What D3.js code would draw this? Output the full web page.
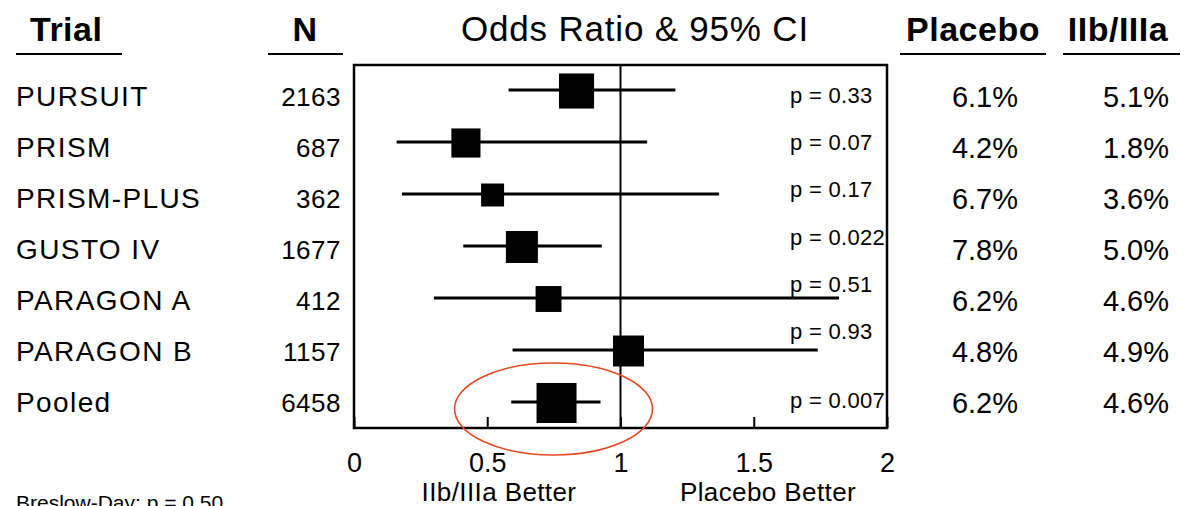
<!DOCTYPE html>
<html>
<head>
<meta charset="utf-8">
<script src="https://cdn.jsdelivr.net/npm/d3@7"></script>
<style>
  body { margin: 0; background: #fff; }
  text { font-family: "Liberation Sans", Arial, Helvetica, sans-serif; fill: #000; }
</style>
</head>
<body>
<div class="chart"></div>
<script>
const trials = ['PURSUIT', 'PRISM', 'PRISM-PLUS', 'GUSTO IV', 'PARAGON A', 'PARAGON B', 'Pooled'];
const nPatients = [2163, 687, 362, 1677, 412, 1157, 6458];
const oddsRatio = [0.835, 0.42, 0.52, 0.63, 0.73, 1.03, 0.76];
const ciLow = [0.58, 0.16, 0.18, 0.41, 0.30, 0.595, 0.59];
const ciHigh = [1.206, 1.10, 1.37, 0.93, 1.82, 1.74, 0.925];
const weights = [0.77, 0.53, 0.33, 0.64, 0.42, 0.60, 1.0];
const pValues = ['0.33', '0.07', '0.17', '0.022', '0.51', '0.93', '0.007'];
const placebo = ['6.1%', '4.2%', '6.7%', '7.8%', '6.2%', '4.8%', '6.2%'];
const gp2b3a = ['5.1%', '1.8%', '3.6%', '5.0%', '4.6%', '4.9%', '4.6%'];
const xTicks = [0, 0.5, 1, 1.5, 2];

const data = trials.map((t, i) => ({
    trial: t, n: nPatients[i], or: oddsRatio[i], lo: ciLow[i], hi: ciHigh[i],
    w: weights[i], p: pValues[i], placebo: placebo[i], drug: gp2b3a[i], i: i
}));

const width = 1186, height = 506;
const frame = {left: 354, right: 887, top: 65, bottom: 428};

const svg = d3.select('.chart').append('svg')
    .attr('width', width)
    .attr('height', height);

const xScale = d3.scaleLinear()
    .domain([0, 2])
    .range([frame.left, frame.right]);
// marker rows and text rows sit on slightly different grids in the original
const yScale = d3.scalePoint()
    .domain(trials)
    .range([91, 403]);
const yText = d3.scalePoint()
    .domain(trials)
    .range([96, 402]);
const pRow = d3.scaleLinear()
    .domain([0, 5])
    .range([103, 339]);
const boxSize = d3.scaleSqrt()
    .domain([0, 1])
    .range([0, 40]);

// headers
const headers = [
    {text: 'Trial', x: 30, anchor: 'start', bold: true, u: [16, 122]},
    {text: 'N', x: 305, anchor: 'middle', bold: true, u: [268, 343]},
    {text: 'Odds Ratio & 95% CI', x: 635, anchor: 'middle', bold: false},
    {text: 'Placebo', x: 973, anchor: 'middle', bold: true, u: [900, 1046]},
    {text: 'IIb/IIIa', x: 1118, anchor: 'middle', bold: true, u: [1063, 1180]}
];
svg.selectAll('.header')
    .data(headers)
    .enter()
    .append('text')
    .attr('class', 'header')
    .attr('x', d => d.x)
    .attr('y', 41)
    .attr('text-anchor', d => d.anchor)
    .attr('font-size', d => d.bold ? 34 : 35)
    .attr('font-weight', d => d.bold ? 'bold' : 'normal')
    .attr('letter-spacing', d => d.bold ? 0.5 : 0.8)
    .text(d => d.text);
svg.selectAll('.underline')
    .data(headers.filter(d => d.u))
    .enter()
    .append('line')
    .attr('x1', d => d.u[0])
    .attr('x2', d => d.u[1])
    .attr('y1', 54)
    .attr('y2', 54)
    .attr('stroke', '#000')
    .attr('stroke-width', 2);

// left table
svg.selectAll('.trial')
    .data(data)
    .enter()
    .append('text')
    .attr('class', 'trial')
    .attr('x', 16)
    .attr('y', d => yText(d.trial) + 10)
    .attr('font-size', 28)
    .attr('letter-spacing', 1.4)
    .text(d => d.trial);
svg.selectAll('.n')
    .data(data)
    .enter()
    .append('text')
    .attr('class', 'n')
    .attr('x', 341)
    .attr('y', d => yText(d.trial) + 10)
    .attr('text-anchor', 'end')
    .attr('font-size', 26)
    .attr('letter-spacing', 0.5)
    .text(d => d.n);

// right table
svg.selectAll('.placebo')
    .data(data)
    .enter()
    .append('text')
    .attr('x', 985)
    .attr('y', d => yText(d.trial) + 11)
    .attr('text-anchor', 'middle')
    .attr('font-size', 29)
    .text(d => d.placebo);
svg.selectAll('.drug')
    .data(data)
    .enter()
    .append('text')
    .attr('x', 1136)
    .attr('y', d => yText(d.trial) + 11)
    .attr('text-anchor', 'middle')
    .attr('font-size', 29)
    .text(d => d.drug);

// plot frame + axis
svg.append('rect')
    .attr('x', frame.left)
    .attr('y', frame.top)
    .attr('width', frame.right - frame.left)
    .attr('height', frame.bottom - frame.top)
    .attr('fill', 'none')
    .attr('stroke', '#000')
    .attr('stroke-width', 2.5);

const xAxis = d3.axisBottom(xScale)
    .tickValues(xTicks)
    .tickFormat(d3.format('~g'))
    .tickSizeInner(-11)
    .tickSizeOuter(0)
    .tickPadding(25);
svg.append('g')
    .attr('class', 'axis x-axis')
    .attr('transform', `translate(0, ${frame.bottom})`)
    .call(xAxis)
    .call(g => g.select('.domain').remove())
    .call(g => g.selectAll('line').attr('stroke-width', 2))
    .call(g => g.selectAll('text')
        .attr('font-size', 27)
        .attr('font-family', '"Liberation Sans", Arial, sans-serif')
        .attr('fill', '#000'));

svg.append('line')
    .attr('x1', xScale(1))
    .attr('x2', xScale(1))
    .attr('y1', frame.top)
    .attr('y2', frame.bottom)
    .attr('stroke', '#000')
    .attr('stroke-width', 2);

// CI lines and boxes
svg.selectAll('.ci')
    .data(data)
    .enter()
    .append('line')
    .attr('class', 'ci')
    .attr('x1', d => xScale(d.lo))
    .attr('x2', d => xScale(d.hi))
    .attr('y1', d => yScale(d.trial) - 1)
    .attr('y2', d => yScale(d.trial) - 1)
    .attr('stroke', '#000')
    .attr('stroke-width', 3);
svg.selectAll('.box')
    .data(data)
    .enter()
    .append('rect')
    .attr('class', 'box')
    .attr('x', d => xScale(d.or) - boxSize(d.w) / 2)
    .attr('y', d => yScale(d.trial) - boxSize(d.w) / 2)
    .attr('width', d => boxSize(d.w))
    .attr('height', d => boxSize(d.w))
    .attr('fill', '#000');

// p values
svg.selectAll('.pval')
    .data(data)
    .enter()
    .append('text')
    .attr('class', 'pval')
    .attr('x', 790)
    .attr('y', d => d.i < 6 ? pRow(d.i) : yScale(d.trial) + 5)
    .attr('font-size', 22)
    .attr('letter-spacing', 0.3)
    .text(d => 'p = ' + d.p);

// highlight around pooled
const pooled = data[data.length - 1];
svg.append('ellipse')
    .attr('cx', xScale(pooled.or) - 3)
    .attr('cy', yScale(pooled.trial) + 6)
    .attr('rx', 99)
    .attr('ry', 46)
    .attr('fill', 'none')
    .attr('stroke', '#e8461e')
    .attr('stroke-width', 1.6);

// footer labels
svg.append('text')
    .attr('x', 499)
    .attr('y', 501)
    .attr('text-anchor', 'middle')
    .attr('font-size', 26)
    .attr('letter-spacing', 0.4)
    .text('IIb/IIIa Better');
svg.append('text')
    .attr('x', 768)
    .attr('y', 501)
    .attr('text-anchor', 'middle')
    .attr('font-size', 26)
    .attr('letter-spacing', 0.4)
    .text('Placebo Better');
svg.append('text')
    .attr('x', 16)
    .attr('y', 510)
    .attr('font-size', 21)
    .text('Breslow-Day: p = 0.50');
</script>
</body>
</html>
